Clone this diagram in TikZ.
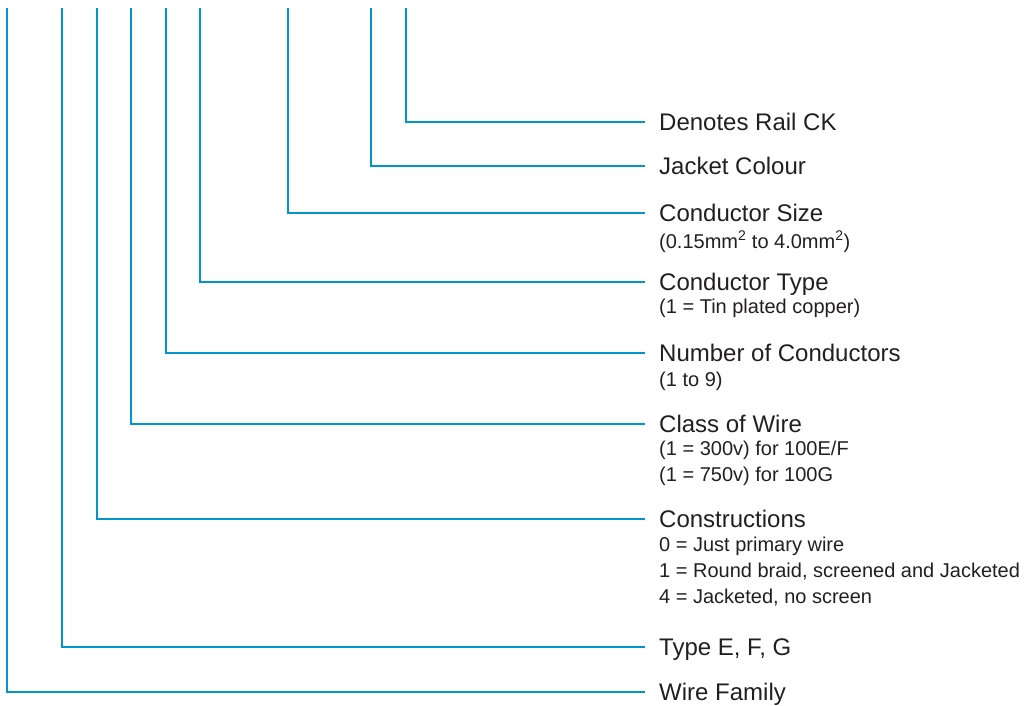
\documentclass[tikz,border=0pt]{standalone}
\usepackage{fontspec}
\setmainfont{Liberation Sans}
\usetikzlibrary{positioning}
\definecolor{wireblue}{RGB}{0,150,200}
\definecolor{textgrey}{RGB}{35,31,32}

\tikzset{
  wire/.style={wireblue, line width=2.5pt},
  lbl/.style={anchor=west, inner sep=0pt, text height=17pt, text depth=0pt,
    text=textgrey, font=\fontsize{24}{29}\selectfont},
  note/.style={inner sep=0pt, align=left, text=textgrey,
    font=\fontsize{20}{26}\selectfont},
}

\begin{document}
\begin{tikzpicture}[x=1pt,y=-1pt]
    \useasboundingbox (0,0) rectangle (1026,705);

    % Top ends of the wires
    \coordinate (family) at (7,8);
    \coordinate (type) at (62,8);
    \coordinate (constr) at (97,8);
    \coordinate (class) at (131,8);
    \coordinate (num) at (166,8);
    \coordinate (ctype) at (200,8);
    \coordinate (csize) at (288,8);
    \coordinate (jacket) at (371,8);
    \coordinate (rail) at (406,8);

    % Labels
    \node[lbl] (rail-l) at (659,122) {Denotes Rail CK};
    \node[lbl] (jacket-l) at (659,166) {Jacket Colour};
    \node[lbl] (csize-l) at (659,213) {Conductor Size};
    \node[lbl] (ctype-l) at (659,282) {Conductor Type};
    \node[lbl] (num-l) at (659,353) {Number of Conductors};
    \node[lbl] (class-l) at (659,424) {Class of Wire};
    \node[lbl] (constr-l) at (659,519) {Constructions};
    \node[lbl] (type-l) at (659,647) {Type E, F, G};
    \node[lbl] (family-l) at (659,692) {Wire Family};

    % Notes under the labels
    \node[note, below=9pt of csize-l.south west, anchor=north west] (csize-n)
      {(0.15mm\textsuperscript{2} to 4.0mm\textsuperscript{2})};
    \node[note, below=8pt of ctype-l.south west, anchor=north west] (ctype-n)
      {(1 = Tin plated copper)};
    \node[note, below=10pt of num-l.south west, anchor=north west] (num-n)
      {(1 to 9)};
    \node[note, below=8pt of class-l.south west, anchor=north west] (class-n)
      {(1 = 300v) for 100E/F\\(1 = 750v) for 100G};
    \node[note, below=9pt of constr-l.south west, anchor=north west] (constr-n)
      {0 = Just primary wire\\1 = Round braid, screened and Jacketed\\4 = Jacketed, no screen};

    % Wires
    \draw[wire] (rail) |- ([xshift=-14pt]rail-l.west);
    \draw[wire] (jacket) |- ([xshift=-14pt]jacket-l.west);
    \draw[wire] (csize) |- ([xshift=-14pt]csize-l.west);
    \draw[wire] (ctype) |- ([xshift=-14pt]ctype-l.west);
    \draw[wire] (num) |- ([xshift=-14pt]num-l.west);
    \draw[wire] (class) |- ([xshift=-14pt]class-l.west);
    \draw[wire] (constr) |- ([xshift=-14pt]constr-l.west);
    \draw[wire] (type) |- ([xshift=-14pt]type-l.west);
    \draw[wire] (family) |- ([xshift=-14pt]family-l.west);
\end{tikzpicture}
\end{document}
